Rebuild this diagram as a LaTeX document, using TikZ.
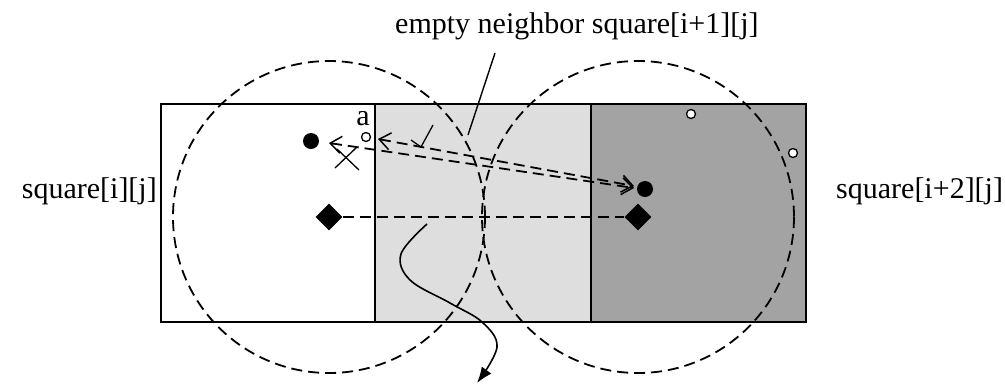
\documentclass[tikz,border=0pt]{standalone}
\usepackage{fontspec}
\setmainfont{Liberation Serif}
\usetikzlibrary{arrows.meta,shapes.geometric}
\begin{document}
\begin{tikzpicture}[x=1pt,y=-1pt,
  dot/.style={circle,fill=black,inner sep=0pt,minimum size=16pt},
  hole/.style={circle,draw=black,fill=white,line width=1.3pt,inner sep=0pt,minimum size=9pt},
  diam/.style={diamond,fill=black,inner sep=0pt,minimum size=27pt},
  dsh/.style={dash pattern=on 11pt off 6pt,line width=1.8pt},
  lbl/.style={font=\fontsize{30}{36}\selectfont,inner sep=0pt},
  barbs/.style={{Straight Barb[length=11pt,width=17pt,line width=1.5pt]}-{Straight Barb[length=11pt,width=17pt,line width=1.5pt]}},
  edge/.style={line width=1.8pt}
]
\useasboundingbox (0,0) rectangle (1005,384);
% squares
\fill[black!13] (375,104) rectangle (591,322);
\fill[black!36] (591,104) rectangle (806,322);
\draw[edge] (161,104) rectangle (806,322);
\draw[edge] (375,104) -- (375,322);
\draw[edge] (591,104) -- (591,322);
% diamonds and circles
\node[diam] (dl) at (329,217) {};
\node[diam] (dr) at (638,217) {};
\draw[dsh] (dl.center) circle[radius=156];
\draw[dsh] (dr.center) circle[radius=156];
\draw[dsh] (dl) -- (dr);
% nodes
\node[dot] (nl) at (311,141) {};
\node[dot] (nr) at (645,189) {};
\node[hole] (a) at (366,137) {};
\node[lbl,anchor=base] (alab) at (363,125) {a};
\node[hole] (h1) at (691,114) {};
\node[hole] (h2) at (793,153) {};
% arrows
\coordinate (ua) at (378,139);
\coordinate (ub) at (634,186);
\coordinate (la) at (329,143);
\coordinate (lb) at (634,188);
\draw[dsh,barbs] (ua) -- (ub);
\draw[dsh,barbs] (la) -- (lb);
% cross
\draw[line width=1.3pt] (335,168) -- (357,147) (337,149) -- (359,170);
% tick
\draw[line width=1.3pt] (411,140) -- (421,147) -- (433,125);
% labels
\node[lbl,anchor=base east] (sl) at (157,198) {square[i][j]};
\node[lbl,anchor=base west] (sr) at (836,198) {square[i+2][j]};
\node[lbl,anchor=base west] (st) at (395,33) {empty neighbor square[i+1][j]};
\coordinate (ld) at (468,135);
\draw[line width=1.4pt] (495,53) -- (ld);
% curved arrow
\draw[line width=1.6pt,-{Latex[length=16pt,width=12pt]}] plot[smooth,tension=0.6] coordinates {(427,224) (401,254) (410,280) (450,303) (482,322) (497,347) (477,383)};
\end{tikzpicture}
\end{document}
